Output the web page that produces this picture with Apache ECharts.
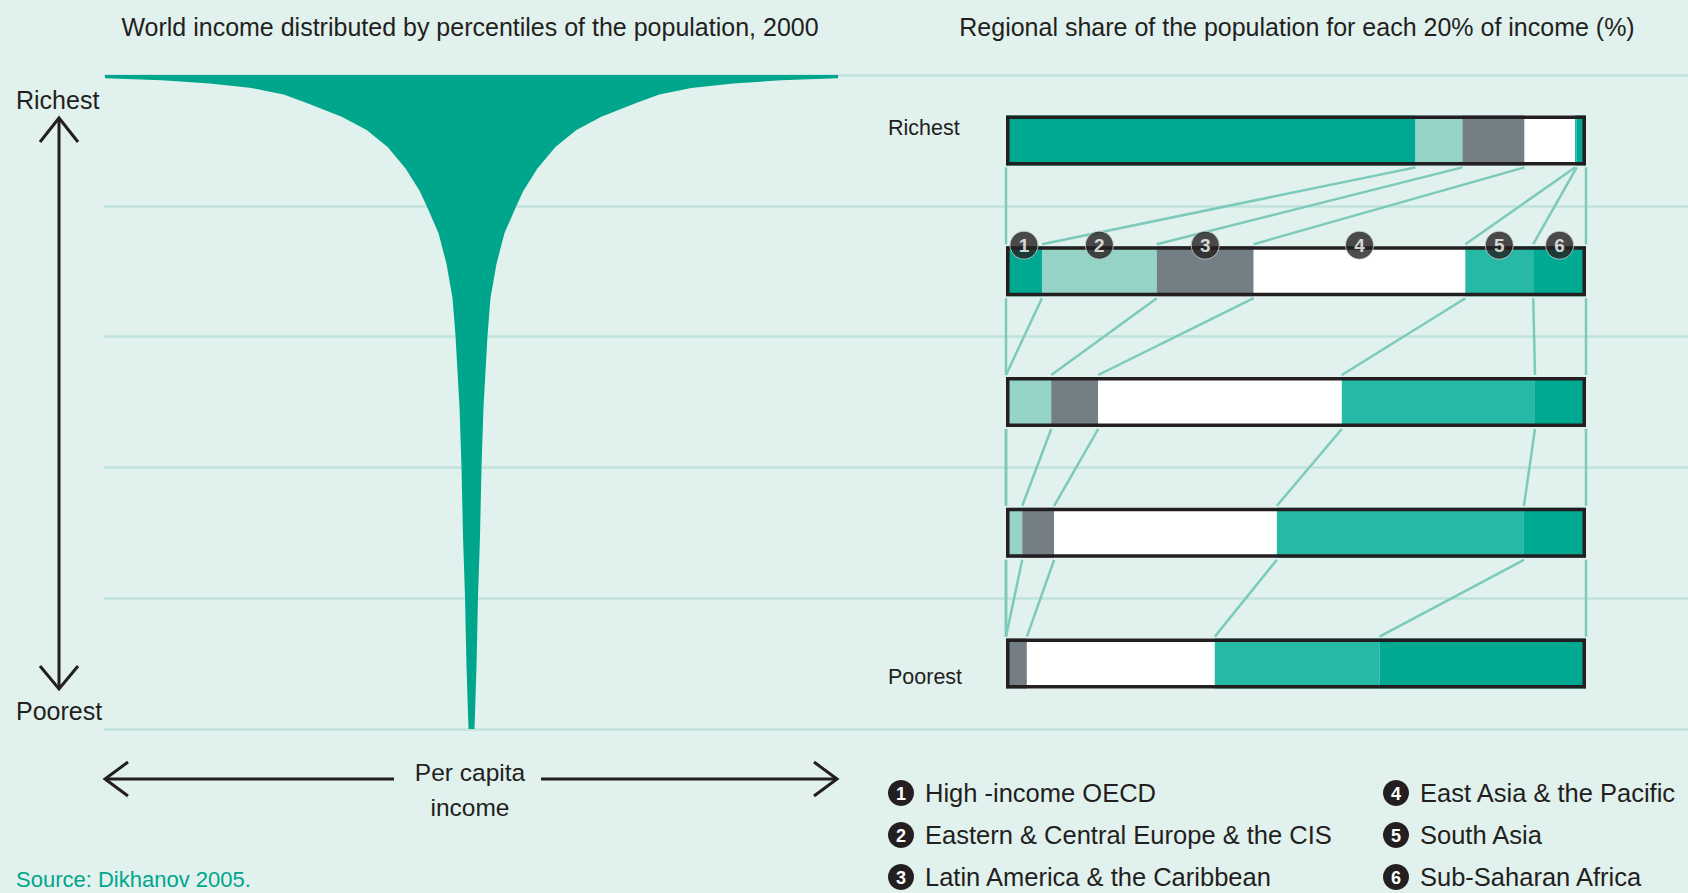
<!DOCTYPE html>
<html>
<head>
<meta charset="utf-8">
<title>World income distribution</title>
<script src="https://cdn.jsdelivr.net/npm/echarts@6/dist/echarts.min.js"></script>
<style>
	html, body { margin: 0; padding: 0; background: #e1f1ed; }
	#main { width: 1688px; height: 893px; }
</style>
</head>
<body>
<div id="main"></div>
<script>
'use strict';

// funnel: percentile of the population (0 = poorest) and half of per capita income
var percentiles = [100, 99.5, 99.2, 98.7, 98.0, 97.0, 95.6, 93.6, 91.6, 89.0, 85.7, 82.3, 80.0, 75.8, 71.1, 65.9, 60.1, 49.2, 39.9, 29.4, 20.2, 9.5, 0];
var incomeWidth = [367, 367, 310, 262, 220, 188, 163, 130, 105, 84, 66, 52, 45, 33, 25, 19, 16, 12, 10, 8.5, 6.5, 5, 3];

// regional share for each 20% of income, richest first
var quintiles = ['Richest', 'Fourth', 'Third', 'Second', 'Poorest'];
var regions = ['High -income OECD', 'Eastern & Central Europe & the CIS', 'Latin America & the Caribbean',
	'East Asia & the Pacific', 'South Asia', 'Sub-Saharan Africa'];
var shareOECD = [70.6, 6.2, 0, 0, 0];
var shareEurope = [8.1, 19.8, 7.8, 2.8, 0];
var shareLatin = [10.7, 16.7, 8.1, 5.5, 3.6];
var shareEastAsia = [8.7, 36.5, 42.0, 38.4, 32.4];
var shareSouthAsia = [0.3, 11.7, 33.3, 42.6, 28.4];
var shareAfrica = [1.6, 9.1, 8.8, 10.7, 35.6];

var shares = [shareOECD, shareEurope, shareLatin, shareEastAsia, shareSouthAsia, shareAfrica];
var colors = ['#00a991', '#95d3c7', '#737e85', '#ffffff', '#25b9a6', '#00a991'];

var FONT = "'Liberation Sans', Arial, sans-serif";
var INK = '#231f20';
var BAR_W = 50;
var BAR_HALF = 27;

// cumulative start of each region in each bar (plus the 100% end)
var cum = quintiles.map(function(q, i) {
	var acc = 0;
	var row = [0];
	for (var k = 0; k < shares.length; k++) {
		acc += shares[k][i];
		row.push(acc);
	}
	return row;
});

// connector lines between neighbouring bars: [fromX, toX, row]
var links = [];
for (var i = 0; i < quintiles.length - 1; i++) {
	for (var k = 0; k <= shares.length; k++) {
		links.push([cum[i][k], cum[i + 1][k], i]);
	}
}

// numbered badges sit on the second bar
var badges = shares.map(function(s, k) {
	return [cum[1][k] + s[1] / 2, 1];
});

var chart = echarts.init(document.getElementById('main'), null, { renderer : 'svg' });

function renderFunnel(params, api) {
	var pts = [];
	for (var i = 0; i < percentiles.length; i++) {
		pts.push(api.coord([incomeWidth[i], percentiles[i]]));
	}
	for (var j = percentiles.length - 1; j >= 0; j--) {
		pts.push(api.coord([-incomeWidth[j], percentiles[j]]));
	}
	return {
		type : 'polygon',
		shape : { points : pts },
		style : { fill : '#00a68b' }
	};
}

function renderLink(params, api) {
	var row = api.value(2);
	var a = api.coord([api.value(0), row]);
	var b = api.coord([api.value(1), row + 1]);
	return {
		type : 'line',
		shape : { x1 : a[0], y1 : a[1] + BAR_HALF, x2 : b[0], y2 : b[1] - BAR_HALF },
		style : { stroke : '#7ccabb', lineWidth : 2.5 }
	};
}

var barSeries = shares.map(function(s, k) {
	return {
		name : regions[k],
		type : 'bar',
		stack : 'share',
		xAxisIndex : 2,
		yAxisIndex : 2,
		barWidth : BAR_W,
		silent : true,
		z : 2,
		itemStyle : { color : colors[k] },
		data : s
	};
});

// black outline round each whole bar
barSeries.push({
	type : 'bar',
	xAxisIndex : 2,
	yAxisIndex : 2,
	barWidth : BAR_W,
	barGap : '-100%',
	silent : true,
	z : 3,
	itemStyle : { color : 'rgba(0,0,0,0)', borderColor : INK, borderWidth : 3.5 },
	data : cum.map(function(r) { return r[r.length - 1]; })
});

// legend: numbered circles with region names
var legendItems = [];
regions.forEach(function(name, k) {
	var col = k < 3 ? 0 : 1;
	var row = k % 3;
	var cx = 901 + col * 495;
	var cy = 793 + row * 42;
	legendItems.push({
		type : 'circle',
		shape : { cx : cx, cy : cy, r : 13 },
		style : { fill : INK }
	});
	legendItems.push({
		type : 'text',
		x : cx, y : cy + 1,
		style : { text : String(k + 1), fill : '#fff', font : 'bold 18px ' + FONT, align : 'center', verticalAlign : 'middle' }
	});
	legendItems.push({
		type : 'text',
		x : cx + 24, y : cy,
		style : { text : name, fill : INK, font : '25.5px ' + FONT, verticalAlign : 'middle' }
	});
});

function label(text, x, y, size, align) {
	return {
		type : 'text',
		x : x, y : y,
		style : { text : text, fill : INK, font : size + 'px ' + FONT, align : align || 'left', verticalAlign : 'middle' }
	};
}

function stroke(points) {
	return {
		type : 'polyline',
		shape : { points : points },
		style : { stroke : INK, lineWidth : 3, fill : null }
	};
}

var option = {
	backgroundColor : '#e1f1ed',
	animation : false,
	grid : [
		{ left : 104, right : 0, top : 75, height : 654 },
		{ left : 105, width : 733, top : 75, height : 654 },
		{ left : 1006, width : 580, top : 75, height : 654 }
	],
	xAxis : [
		{ gridIndex : 0, type : 'value', min : 0, max : 1, show : false },
		{ gridIndex : 1, type : 'value', min : -367, max : 367, show : false },
		{ gridIndex : 2, type : 'value', min : 0, max : 100, show : false }
	],
	yAxis : [
		{
			gridIndex : 0, type : 'value', min : 0, max : 100, interval : 20,
			axisLine : { show : false }, axisTick : { show : false }, axisLabel : { show : false },
			splitLine : { show : true, lineStyle : { color : '#bfe3da', width : 2.5 } }
		},
		{ gridIndex : 1, type : 'value', min : 0, max : 100, show : false },
		{ gridIndex : 2, type : 'category', data : quintiles, inverse : true, show : false }
	],
	series : [ {
		type : 'custom',
		xAxisIndex : 1,
		yAxisIndex : 1,
		silent : true,
		z : 2,
		renderItem : renderFunnel,
		data : [ [0, 0] ]
	}, {
		type : 'custom',
		xAxisIndex : 2,
		yAxisIndex : 2,
		silent : true,
		z : 1,
		renderItem : renderLink,
		encode : { x : [0, 1], y : 2 },
		data : links
	} ].concat(barSeries).concat([ {
		type : 'scatter',
		xAxisIndex : 2,
		yAxisIndex : 2,
		silent : true,
		z : 5,
		symbol : 'circle',
		symbolSize : 28,
		symbolOffset : [0, -26],
		itemStyle : { color : INK, borderColor : '#c9d3d1', borderWidth : 1 },
		label : {
			show : true,
			position : 'inside',
			color : '#fff',
			fontFamily : FONT,
			fontWeight : 'bold',
			fontSize : 19,
			formatter : function(p) { return String(p.dataIndex + 1); }
		},
		data : badges
	} ]),
	graphic : [
		label('World income distributed by percentiles of the population, 2000', 470, 27, 25, 'center'),
		label('Regional share of the population for each 20% of income (%)', 1297, 27, 25, 'center'),
		label('Richest', 16, 100, 25),
		label('Poorest', 16, 711, 25),
		label('Richest', 888, 128, 21.5),
		label('Poorest', 888, 677, 21.5),
		label('Per capita', 470, 772, 24.5, 'center'),
		label('income', 470, 807, 24.5, 'center'),
		{
			type : 'text',
			x : 16, y : 868,
			style : { text : 'Source: Dikhanov 2005.', fill : '#00a68b', font : '22px ' + FONT }
		},
		// vertical double arrow
		stroke([[59, 119], [59, 688]]),
		stroke([[40, 142], [59, 118], [78, 142]]),
		stroke([[40, 666], [59, 689], [78, 666]]),
		// horizontal double arrow
		stroke([[106, 779], [394, 779]]),
		stroke([[541, 779], [836, 779]]),
		stroke([[128, 762], [105, 779], [128, 796]]),
		stroke([[814, 762], [837, 779], [814, 796]])
	].concat(legendItems)
};

chart.setOption(option);
</script>
</body>
</html>
